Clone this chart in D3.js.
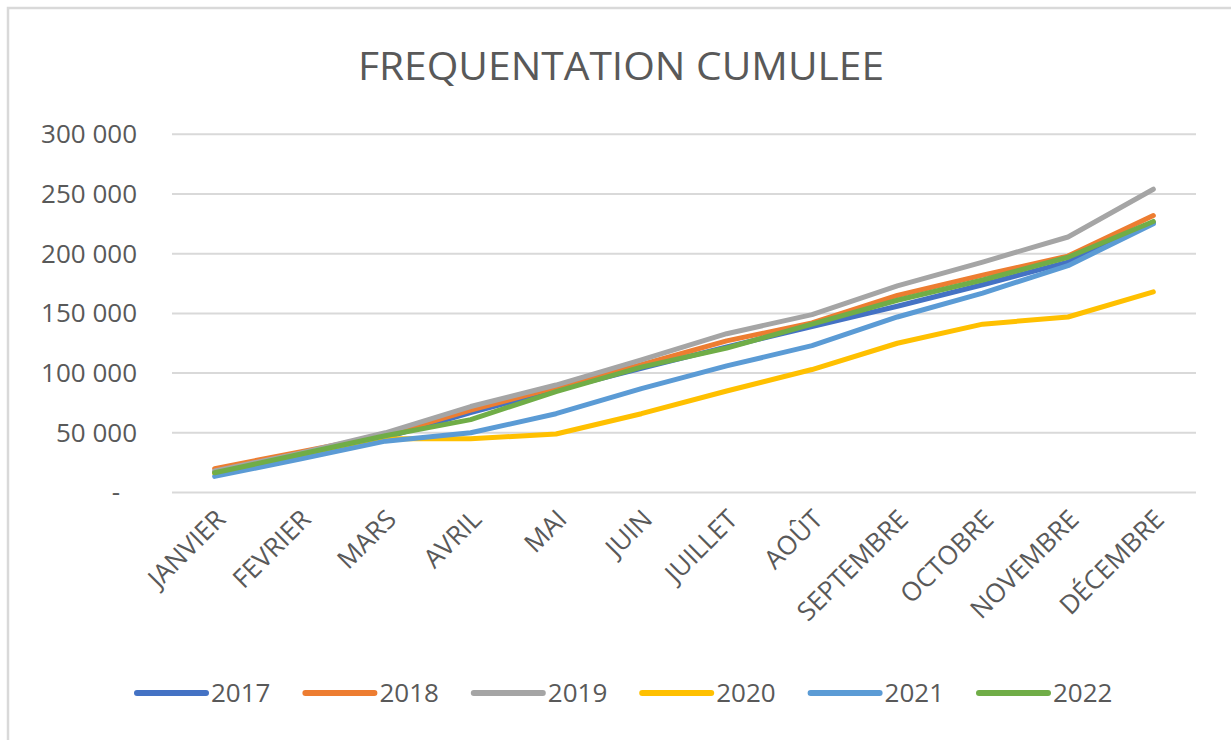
<!DOCTYPE html>
<html>
<head>
<meta charset="utf-8">
<script src="https://cdn.jsdelivr.net/npm/d3@7"></script>
<style>
  html, body { margin: 0; padding: 0; background: #ffffff; }
  svg { display: block; }
  text { font-family: "Open Sans", "Noto Sans", sans-serif; fill: #595959; }
</style>
</head>
<body>
<svg id="chart" width="1231" height="740"></svg>
<script>
const months = ["JANVIER","FEVRIER","MARS","AVRIL","MAI","JUIN","JUILLET","AOÛT","SEPTEMBRE","OCTOBRE","NOVEMBRE","DÉCEMBRE"];
const years = ["2017","2018","2019","2020","2021","2022"];
const colors = ["#4472C4","#ED7D31","#A5A5A5","#FFC000","#5B9BD5","#70AD47"];
const v2017 = [17000, 31000, 46000, 67000, 86000, 104000, 122000, 139000, 156000, 174000, 193000, 226000];
const v2018 = [20000, 34000, 48000, 69000, 88000, 107000, 127000, 142000, 165000, 182000, 198000, 232000];
const v2019 = [18000, 33000, 50000, 72000, 90000, 111000, 133000, 149000, 173000, 193000, 214000, 254000];
const v2020 = [16000, 30000, 45000, 45000, 49000, 66000, 85000, 103000, 125000, 141000, 147000, 168000];
const v2021 = [13500, 28000, 43000, 50000, 66000, 87000, 106000, 123000, 147000, 167000, 190000, 225000];
const v2022 = [16500, 32000, 47500, 61000, 84500, 105000, 121000, 141000, 161000, 178000, 197000, 227000];
const yTicks = [0, 50000, 100000, 150000, 200000, 250000, 300000];
const title = "FREQUENTATION CUMULEE";

const seriesValues = [v2017, v2018, v2019, v2020, v2021, v2022];
const series = years.map((y, i) => ({ name: y, color: colors[i], values: seriesValues[i] }));

const svg = d3.select("#chart");

// outer chart border
svg.append("rect")
  .attr("x", 8).attr("y", 8)
  .attr("width", 1240).attr("height", 760)
  .attr("fill", "#ffffff")
  .attr("stroke", "#D9D9D9").attr("stroke-width", 2.5);

const plotLeft = 172, plotRight = 1196, plotTop = 134.3, plotBottom = 492.5;

const x = d3.scaleBand().domain(months).range([plotLeft, plotRight]).padding(0);
const y = d3.scaleLinear().domain([0, 300000]).range([plotBottom, plotTop]);

// title
svg.append("text")
  .attr("x", 621).attr("y", 80)
  .attr("text-anchor", "middle")
  .attr("font-size", 38)
  .attr("textLength", 526)
  .attr("lengthAdjust", "spacingAndGlyphs")
  .text(title);

// gridlines
svg.append("g").selectAll("line")
  .data(yTicks)
  .join("line")
  .attr("x1", plotLeft).attr("x2", plotRight)
  .attr("y1", d => y(d)).attr("y2", d => y(d))
  .attr("stroke", "#D9D9D9").attr("stroke-width", 2);

// y axis labels
const fmt = d => d === 0 ? "-" : d3.format(",")(d).replace(/,/g, " ");
const yAxis = d3.axisLeft(y).tickValues(yTicks).tickFormat(fmt).tickSize(0).tickPadding(35);
const gy = svg.append("g").attr("transform", `translate(${plotLeft},0)`).call(yAxis);
gy.select(".domain").remove();
gy.selectAll("text")
  .attr("font-size", 26)
  .attr("fill", "#595959")
  .attr("font-family", "'Open Sans', sans-serif")
  .attr("dx", d => d === 0 ? -17 : 0);

// x axis labels
const xAxis = d3.axisBottom(x).tickSize(0).tickPadding(0);
const gx = svg.append("g").attr("transform", `translate(0,${plotBottom})`).call(xAxis);
gx.select(".domain").remove();
gx.selectAll(".tick text")
  .attr("font-size", 26)
  .attr("fill", "#595959")
  .attr("font-family", "'Open Sans', sans-serif")
  .attr("text-anchor", "end")
  .attr("y", 0).attr("dy", "0.35em")
  .attr("transform", "translate(6,22) rotate(-45)");

// lines
const line = d3.line()
  .x((d, i) => x(months[i]) + x.bandwidth() / 2)
  .y(d => y(d));

svg.append("g").selectAll("path")
  .data(series)
  .join("path")
  .attr("d", d => line(d.values))
  .attr("fill", "none")
  .attr("stroke", d => d.color)
  .attr("stroke-width", 5)
  .attr("stroke-linejoin", "round")
  .attr("stroke-linecap", "round");

// legend
const legendX0 = 137, legendPitch = 168.4, legendY = 693;
const lg = svg.append("g").selectAll("g")
  .data(series)
  .join("g")
  .attr("transform", (d, i) => `translate(${legendX0 + i * legendPitch},${legendY})`);
lg.append("line")
  .attr("x1", 0).attr("x2", 69)
  .attr("y1", 0).attr("y2", 0)
  .attr("stroke", d => d.color)
  .attr("stroke-width", 6)
  .attr("stroke-linecap", "round");
lg.append("text")
  .attr("x", 74).attr("y", 0).attr("dy", "0.35em")
  .attr("font-size", 26)
  .text(d => d.name);
</script>
</body>
</html>
